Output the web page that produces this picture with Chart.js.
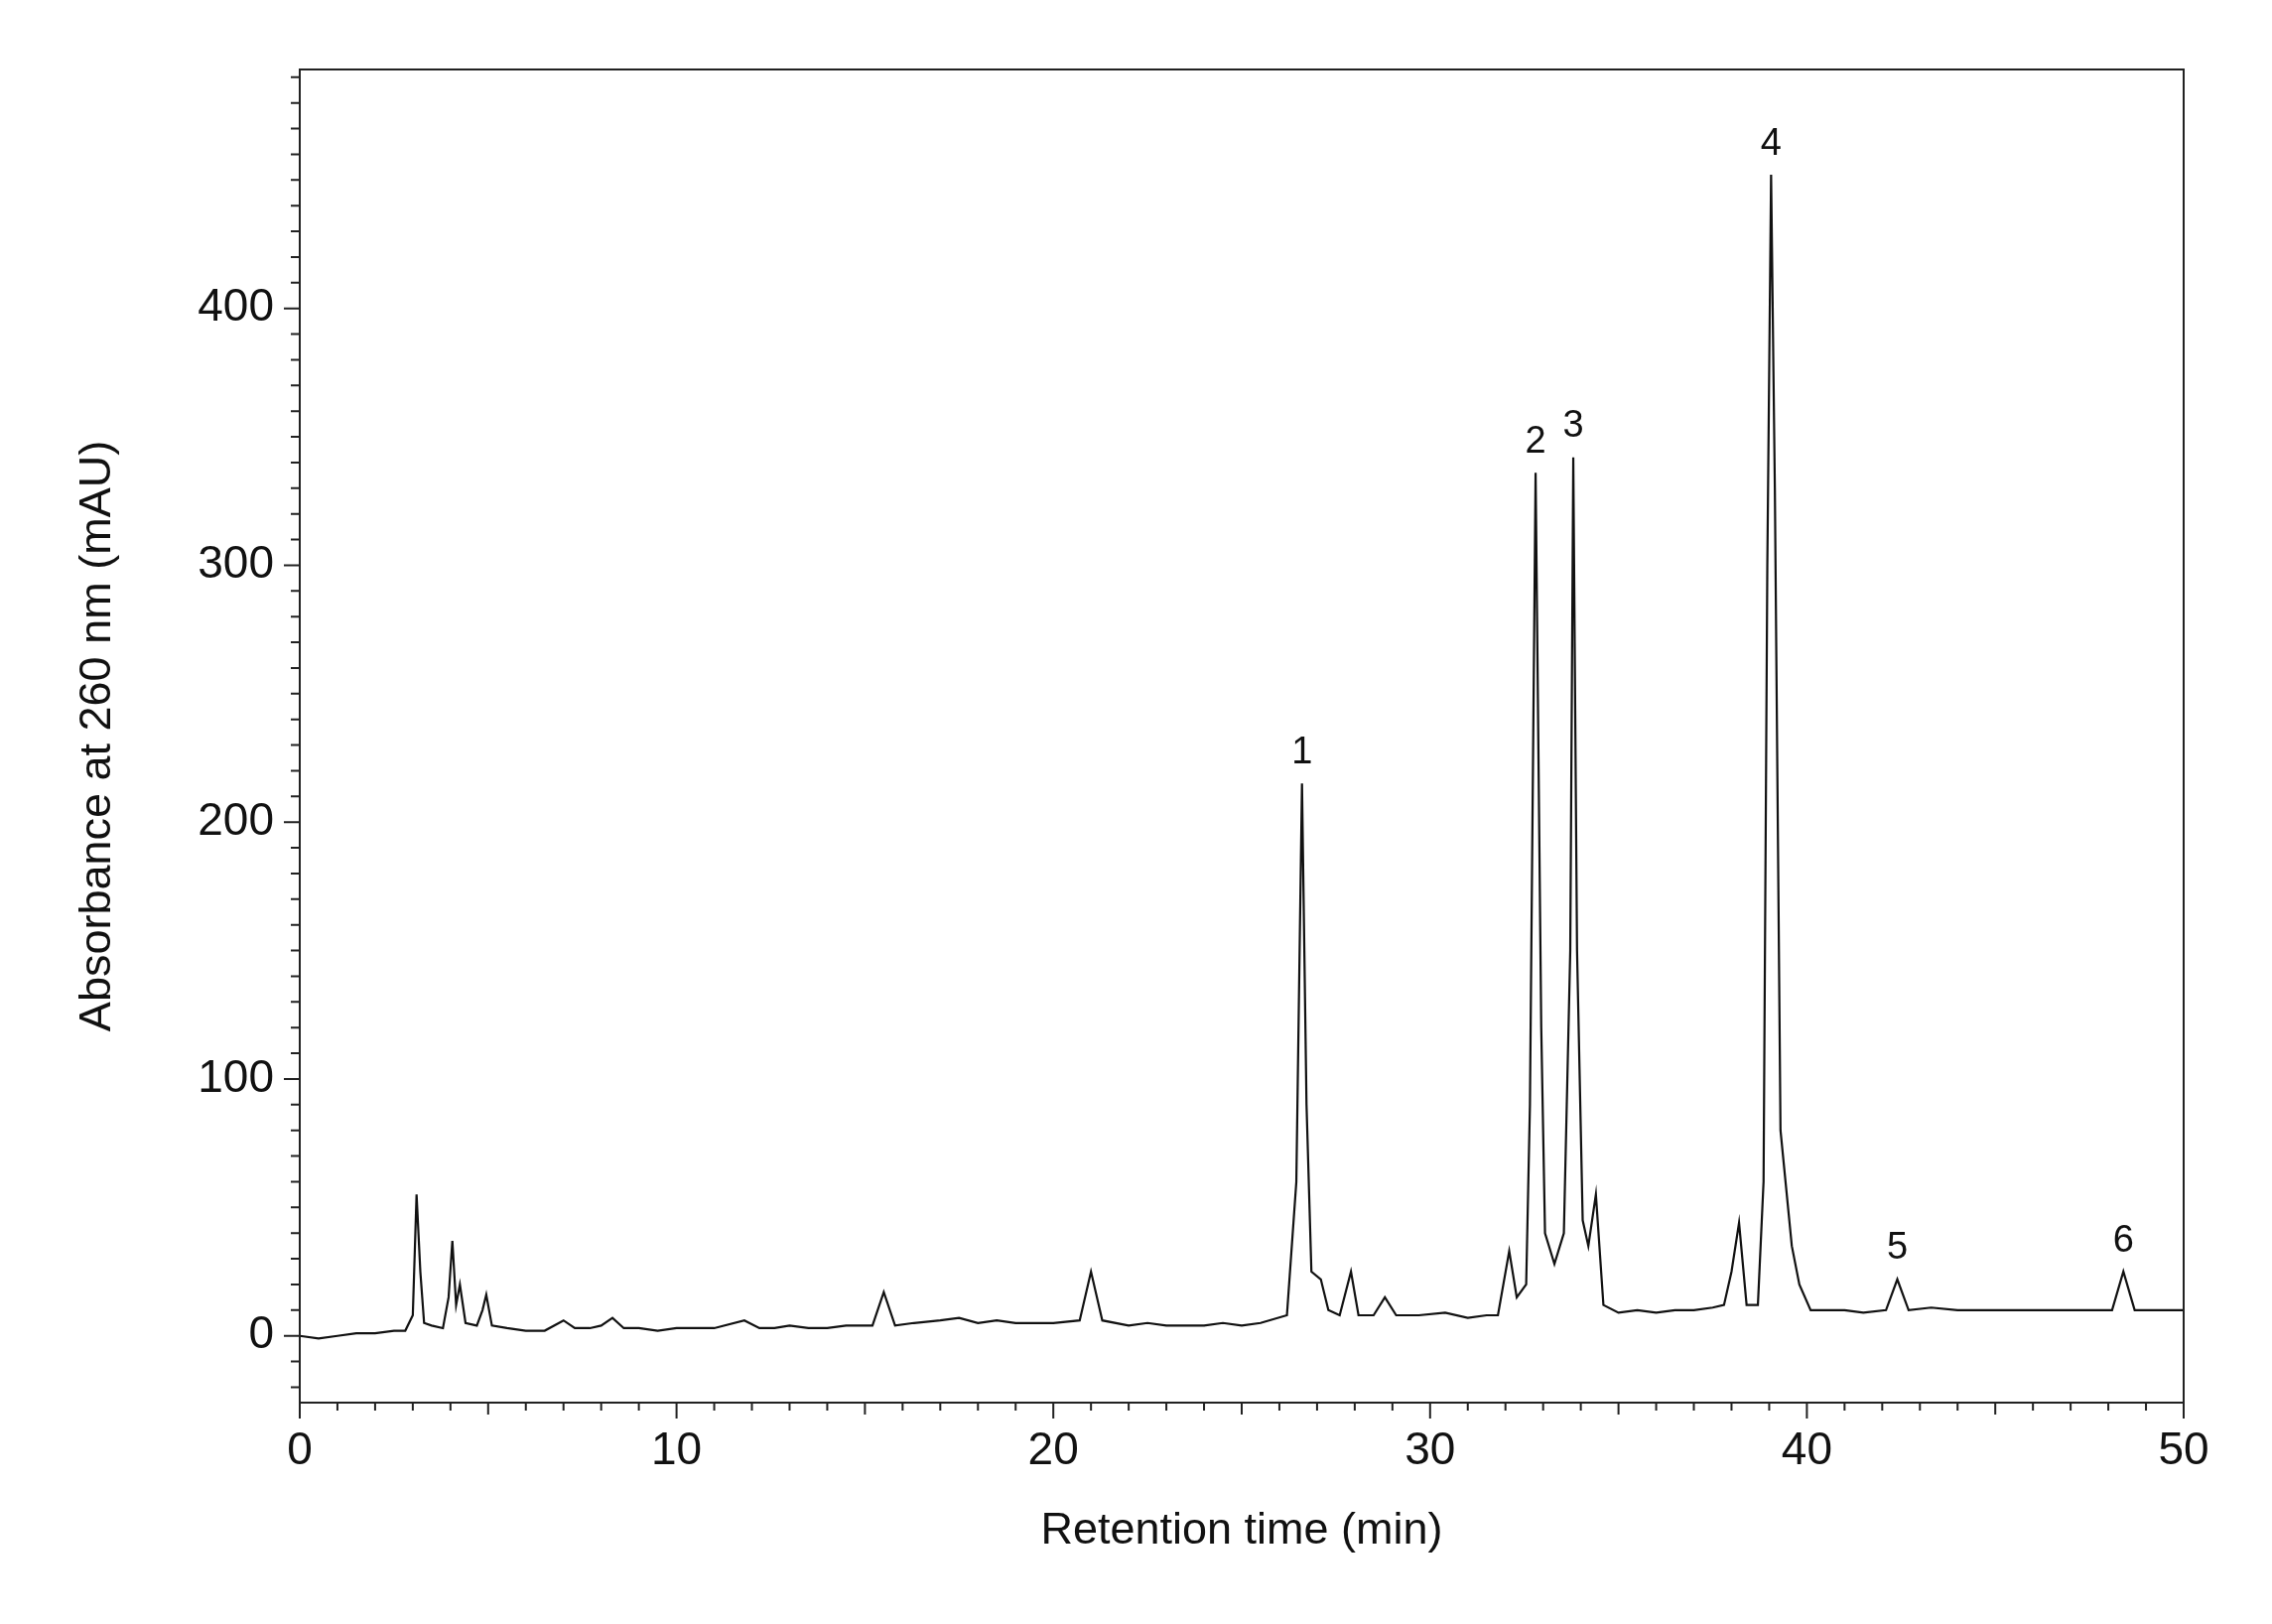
<!DOCTYPE html>
<html><head><meta charset="utf-8">
<script src="https://cdn.jsdelivr.net/npm/chart.js@4"></script>
<style>html,body{margin:0;padding:0;background:#fff}#w{width:2289px;height:1636px}</style>
</head><body><div id="w"><canvas id="c"></canvas></div>
<script>
const retentionTime = [0,0.5,1,1.5,2,2.5,2.8,3.0,3.1,3.2,3.3,3.5,3.8,3.95,4.05,4.15,4.25,4.4,4.7,4.85,4.95,5.1,5.5,6,6.5,7.0,7.3,7.7,8.0,8.3,8.6,9,9.5,10,10.5,11,11.8,12.2,12.6,13,13.5,14,14.5,15.2,15.5,15.8,16.3,17,17.5,18,18.5,19,19.5,20,20.7,21,21.3,22,22.5,23,23.5,24,24.5,25,25.5,26.2,26.45,26.6,26.72,26.85,27.1,27.3,27.6,27.9,28.1,28.5,28.8,29.1,29.7,30.4,31,31.5,31.8,32.1,32.3,32.55,32.65,32.8,32.95,33.05,33.3,33.55,33.72,33.8,33.9,34.05,34.2,34.4,34.6,35,35.5,36,36.5,37,37.5,37.8,38.0,38.2,38.4,38.7,38.85,38.95,39.05,39.15,39.3,39.6,39.8,40.1,40.5,41,41.5,42.1,42.4,42.7,43.3,44,45,46,47,48.1,48.4,48.7,49.3,50];
const absorbance = [0,-1,0,1,1,2,2,8,55,25,5,4,3,15,37,12,20,5,4,10,16,4,3,2,2,6,3,3,4,7,3,3,2,3,3,3,6,3,3,4,3,3,4,4,17,4,5,6,7,5,6,5,5,5,6,25,6,4,5,4,4,4,5,4,5,8,60,215,90,25,22,10,8,25,8,8,15,8,8,9,7,8,8,33,15,20,90,336,120,40,28,40,150,342,150,45,35,55,12,9,10,9,10,10,11,12,25,44,12,12,60,300,452,330,80,35,20,10,10,10,9,10,22,10,11,10,10,10,10,10,25,10,10,10];
const peakLabels = ['1','2','3','4','5','6'];
const peakX = [26.6,32.8,33.8,39.05,42.4,48.4];
const peakTop = [215,336,342,452,22,25];
const yTicks = [0,100,200,300,400];
const xTicks = [0,10,20,30,40,50];

const FONT = "'Liberation Sans', Arial, sans-serif";
const deco = {
  id:'deco',
  afterDraw(ch){
    const {ctx, chartArea:a, scales:{x,y}} = ch;
    ctx.save();
    ctx.strokeStyle='#222'; ctx.lineWidth=2;
    ctx.strokeRect(a.left,a.top,a.right-a.left,a.bottom-a.top);
    ctx.beginPath();
    for(let v=-20; v<=490; v+=10){
      const p=y.getPixelForValue(v); if(p<a.top||p>a.bottom) continue;
      const L = v%100===0?16:9;
      ctx.moveTo(a.left,p); ctx.lineTo(a.left-L,p);
    }
    for(let v=0; v<=50; v+=1){
      const p=x.getPixelForValue(v);
      const L = v%10===0?16:(v%5===0?12:8);
      ctx.moveTo(p,a.bottom); ctx.lineTo(p,a.bottom+L);
    }
    ctx.stroke();
    ctx.fillStyle='#111'; ctx.font="38px "+FONT; ctx.textAlign='center'; ctx.textBaseline='bottom';
    peakLabels.forEach((t,i)=>{
      ctx.fillText(t, x.getPixelForValue(peakX[i]), y.getPixelForValue(peakTop[i])-12);
    });
    ctx.restore();
  }
};
new Chart(document.getElementById('c'),{
  type:'line',
  data:{datasets:[{data:retentionTime.map((t,i)=>({x:t,y:absorbance[i]})),borderColor:'#111',borderWidth:2.2,pointRadius:0,tension:0,fill:false}]},
  options:{responsive:true,maintainAspectRatio:false,animation:false,
    layout:{padding:{left:68,top:70,right:89,bottom:62}},
    plugins:{legend:{display:false},tooltip:{enabled:false}},
    scales:{
      x:{type:'linear',min:0,max:50,
        afterBuildTicks(s){s.ticks=xTicks.map(v=>({value:v}));},
        afterFit(s){s.height=161;},
        grid:{display:false,drawTicks:false},border:{display:false},
        ticks:{padding:22,color:'#111',font:{family:FONT,size:46},maxRotation:0},
        title:{display:true,text:'Retention time (min)',color:'#111',font:{family:FONT,size:45},padding:{top:0}}},
      y:{min:-26,max:493,
        afterBuildTicks(s){s.ticks=yTicks.map(v=>({value:v}));},
        afterFit(s){s.width=234;},
        grid:{display:false,drawTicks:false},border:{display:false},
        ticks:{padding:26,color:'#111',font:{family:FONT,size:46}},
        title:{display:true,text:'Absorbance at 260 nm (mAU)',color:'#111',font:{family:FONT,size:45},padding:{bottom:10}}}
    }},
  plugins:[deco]
});
</script></body></html>
